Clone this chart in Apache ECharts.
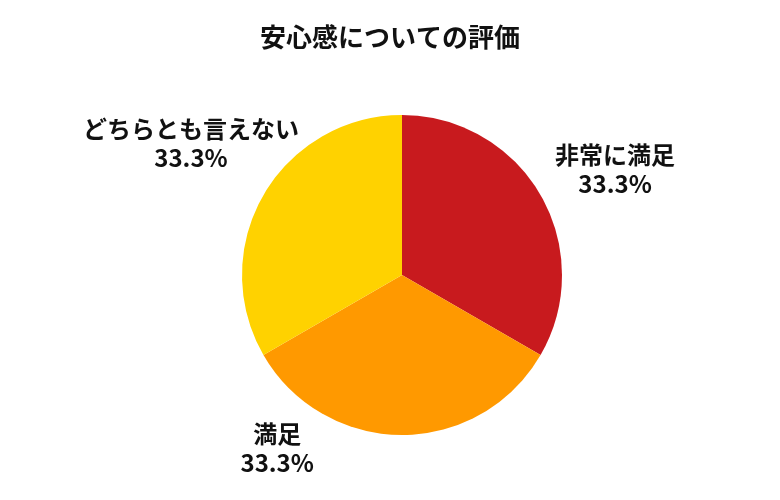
<!DOCTYPE html>
<html><head><meta charset="utf-8">
<script src="https://cdn.jsdelivr.net/npm/echarts@6/dist/echarts.min.js"></script>
<style>html,body{margin:0;padding:0;background:#fff}#c{width:780px;height:500px}</style>
</head><body><div id="c"></div>
<script>
const titleText = '安心感についての評価';
const categories = ['非常に満足', '満足', 'どちらとも言えない'];
const values = [33.3, 33.3, 33.3];
const colors = ['#C81A1E', '#FF9900', '#FFD200'];
const chart = echarts.init(document.getElementById('c'));
const labelFont = { fontFamily: 'Noto Sans CJK JP', fontWeight: 'bold', fontSize: 24, lineHeight: 29, color: '#111', align: 'center' };
chart.setOption({
  animation: false,
  title: { text: titleText, left: 'center', top: 19,
    textStyle: { fontFamily: 'Noto Sans CJK JP', fontWeight: 'bold', fontSize: 26, color: '#111' } },
  series: [{
    type: 'pie', radius: 160, center: [402, 275], startAngle: 90, clockwise: true,
    avoidLabelOverlap: false,
    data: categories.map((n, i) => ({ name: n, value: values[i], itemStyle: { color: colors[i] } })),
    label: { show: true, position: 'outside', formatter: '{n|{b}}\n{p|{c}%}',
      rich: { n: labelFont, p: labelFont } },
    labelLine: { show: false, length: 30, length2: 20 },
    labelLayout: function (p) {
      const shift = [[-36.5, -11], [-186.5, -17], [86.5, -37]][p.dataIndex];
      const r = p.labelRect;
      return { x: r.x + r.width / 2 + shift[0], y: r.y + r.height / 2 + shift[1], align: 'center', verticalAlign: 'middle' };
    }
  }]
});
</script></body></html>
